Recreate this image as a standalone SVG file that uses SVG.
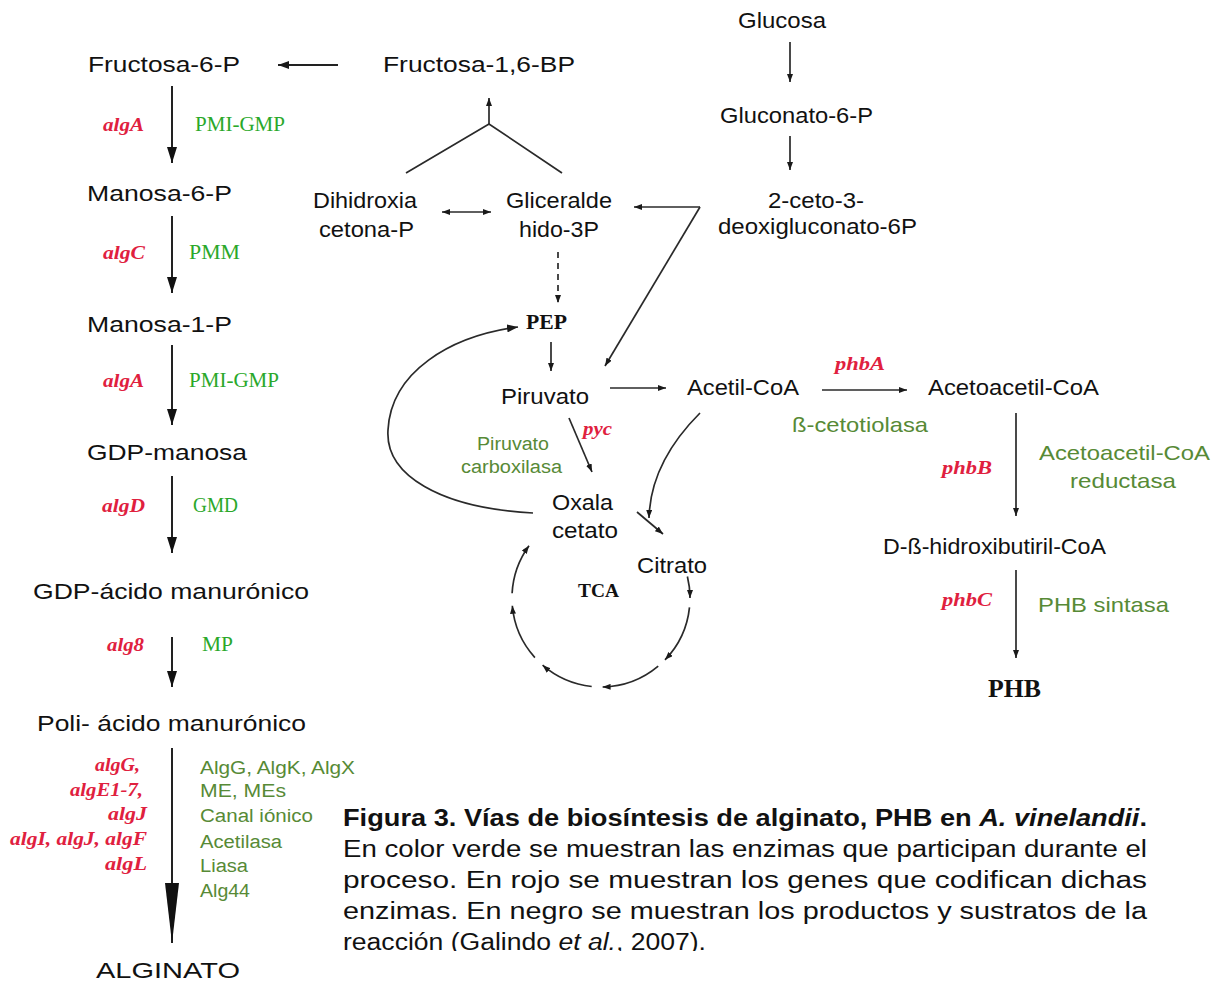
<svg xmlns="http://www.w3.org/2000/svg" width="1218" height="983" viewBox="0 0 1218 983">
<style>
.n{font-family:"Liberation Sans",Arial,sans-serif;font-size:22px;fill:#111}
.ge{font-family:"Liberation Sans",Arial,sans-serif;font-size:21px;fill:#578a36}
.gs{font-family:"Liberation Sans",Arial,sans-serif;font-size:18px;fill:#578a36}
.g{font-family:"Liberation Serif","Times New Roman",serif;font-style:italic;font-weight:bold;font-size:19px;fill:#e0203e}
.e{font-family:"Liberation Serif","Times New Roman",serif;font-size:20px;fill:#2aa82a}
.b{font-family:"Liberation Serif","Times New Roman",serif;font-weight:bold;fill:#111}
.cap{font-family:"Liberation Sans",Arial,sans-serif;font-size:23px;fill:#111}
.c{fill:none;stroke:#2a2a2a;stroke-width:1.7}
.cl{fill:none;stroke:#222;stroke-width:2}
</style>
<defs>
<marker id="ah" viewBox="0 0 16 10" refX="16" refY="5" markerWidth="16" markerHeight="10" markerUnits="userSpaceOnUse" orient="auto"><path d="M0,0 L16,5 L0,10 z" fill="#111"/></marker>
<marker id="ahBig" viewBox="0 0 60 14" refX="60" refY="7" markerWidth="60" markerHeight="14" markerUnits="userSpaceOnUse" orient="auto"><path d="M0,0 L60,7 L0,14 z" fill="#111"/></marker>
<marker id="am" viewBox="0 0 11 8" refX="11" refY="4" markerWidth="11" markerHeight="8" markerUnits="userSpaceOnUse" orient="auto"><path d="M0,0 L11,4 L0,8 z" fill="#1a1a1a"/></marker>
<marker id="as" viewBox="0 0 8 6" refX="8" refY="3" markerWidth="8" markerHeight="6" markerUnits="userSpaceOnUse" orient="auto-start-reverse"><path d="M0,0 L8,3 L0,6 z" fill="#1a1a1a"/></marker>
<clipPath id="capclip"><rect x="330" y="790" width="850" height="161"/></clipPath>
</defs>
<rect width="1218" height="983" fill="#fff"/>

<g id="connectors">
<path class="cl" d="M172,86 V163" marker-end="url(#ah)"/>
<path class="cl" d="M172,216 V293" marker-end="url(#ah)"/>
<path class="cl" d="M172,345 V425" marker-end="url(#ah)"/>
<path class="cl" d="M172,476 V553" marker-end="url(#ah)"/>
<path class="cl" d="M172,637 V687" marker-end="url(#ah)"/>
<path class="cl" d="M172,748 V943" marker-end="url(#ahBig)"/>
<path class="cl" d="M338,65 H278" stroke-width="2.4" marker-end="url(#am)"/>
<path class="c" d="M406,173 L489,124 L562,173"/>
<path class="c" d="M489,124 V98" marker-end="url(#as)"/>
<path class="c" d="M442,212 H491" marker-start="url(#as)" marker-end="url(#as)"/>
<path class="c" d="M700,207 H634" marker-end="url(#as)"/>
<path class="c" d="M700,207 L605,366" marker-end="url(#as)"/>
<path class="c" d="M790,42 V82" marker-end="url(#as)"/>
<path class="c" d="M790,136 V170" marker-end="url(#as)"/>
<path class="c" d="M558,252 V303" stroke-dasharray="6 5" marker-end="url(#as)"/>
<path class="c" d="M551,342 V371" marker-end="url(#as)"/>
<path class="c" d="M610,388 H666" marker-end="url(#as)"/>
<path class="c" d="M822,390 H907" marker-end="url(#as)"/>
<path class="c" d="M1016,413 V516" marker-end="url(#as)"/>
<path class="c" d="M1016,570 V658" marker-end="url(#as)"/>
<path class="c" d="M569,418 L592,472" marker-end="url(#as)"/>
<path class="c" d="M533,513 C440,508 385,475 388,430 C391,372 450,336 518,327" marker-end="url(#am)"/>
<path class="c" d="M700,413 C668,445 650,480 649,518" marker-end="url(#as)"/>
<path class="c" d="M637,512 L663,534" marker-end="url(#as)"/>
<path class="c" d="M687.4,576.5 A89,89 0 0 1 690,598" marker-end="url(#as)"/>
<path class="c" d="M689.5,607.3 A89,89 0 0 1 665,659.8" marker-end="url(#as)"/>
<path class="c" d="M658.2,666.2 A89,89 0 0 1 602.6,687" marker-end="url(#as)"/>
<path class="c" d="M591.7,686.5 A89,89 0 0 1 542.6,665.2" marker-end="url(#as)"/>
<path class="c" d="M534.9,657.6 A89,89 0 0 1 512.3,605.8" marker-end="url(#as)"/>
<path class="c" d="M512.1,593.3 A89,89 0 0 1 529,545.7" marker-end="url(#as)"/>
</g>

<g id="n-fructosa6p"><text class="n" x="88" y="72" textLength="152" lengthAdjust="spacingAndGlyphs">Fructosa-6-P</text></g>
<g id="n-fructosa16bp"><text class="n" x="383" y="72" textLength="192" lengthAdjust="spacingAndGlyphs">Fructosa-1,6-BP</text></g>
<g id="n-manosa6p"><text class="n" x="87" y="201" textLength="145" lengthAdjust="spacingAndGlyphs">Manosa-6-P</text></g>
<g id="n-manosa1p"><text class="n" x="87" y="332" textLength="145" lengthAdjust="spacingAndGlyphs">Manosa-1-P</text></g>
<g id="n-gdpmanosa"><text class="n" x="87" y="460" textLength="160" lengthAdjust="spacingAndGlyphs">GDP-manosa</text></g>
<g id="n-gdpacido"><text class="n" x="33" y="599" textLength="276" lengthAdjust="spacingAndGlyphs">GDP-ácido manurónico</text></g>
<g id="n-poli"><text class="n" x="37" y="731" textLength="269" lengthAdjust="spacingAndGlyphs">Poli- ácido manurónico</text></g>
<g id="n-alginato"><text class="n" x="96" y="978" font-size="23" textLength="144" lengthAdjust="spacingAndGlyphs">ALGINATO</text></g>

<g id="e-left">
<text class="g" x="103" y="131" textLength="41" lengthAdjust="spacingAndGlyphs">algA</text>
<text class="e" x="195" y="131" textLength="90" lengthAdjust="spacingAndGlyphs">PMI-GMP</text>
<text class="g" x="103" y="259" textLength="42" lengthAdjust="spacingAndGlyphs">algC</text>
<text class="e" x="189" y="259" textLength="51" lengthAdjust="spacingAndGlyphs">PMM</text>
<text class="g" x="103" y="387" textLength="41" lengthAdjust="spacingAndGlyphs">algA</text>
<text class="e" x="189" y="387" textLength="90" lengthAdjust="spacingAndGlyphs">PMI-GMP</text>
<text class="g" x="102" y="512" textLength="43" lengthAdjust="spacingAndGlyphs">algD</text>
<text class="e" x="193" y="512" textLength="45" lengthAdjust="spacingAndGlyphs">GMD</text>
<text class="g" x="107" y="651" textLength="37" lengthAdjust="spacingAndGlyphs">alg8</text>
<text class="e" x="202" y="651" textLength="31" lengthAdjust="spacingAndGlyphs">MP</text>
<text class="g" x="95" y="771" textLength="45" lengthAdjust="spacingAndGlyphs">algG,</text>
<text class="g" x="70" y="796" textLength="73" lengthAdjust="spacingAndGlyphs">algE1-7,</text>
<text class="g" x="108" y="820" textLength="39" lengthAdjust="spacingAndGlyphs">algJ</text>
<text class="g" x="10" y="845" textLength="137" lengthAdjust="spacingAndGlyphs">algI, algJ, algF</text>
<text class="g" x="105" y="870" textLength="42" lengthAdjust="spacingAndGlyphs">algL</text>
<text class="gs" x="200" y="774" textLength="155" lengthAdjust="spacingAndGlyphs">AlgG, AlgK, AlgX</text>
<text class="gs" x="200" y="797" textLength="86" lengthAdjust="spacingAndGlyphs">ME, MEs</text>
<text class="gs" x="200" y="822" textLength="113" lengthAdjust="spacingAndGlyphs">Canal iónico</text>
<text class="gs" x="200" y="848" textLength="82" lengthAdjust="spacingAndGlyphs">Acetilasa</text>
<text class="gs" x="200" y="872" textLength="48" lengthAdjust="spacingAndGlyphs">Liasa</text>
<text class="gs" x="200" y="897" textLength="50" lengthAdjust="spacingAndGlyphs">Alg44</text>
</g>

<g id="n-glucosa"><text class="n" x="738" y="28" textLength="88" lengthAdjust="spacingAndGlyphs">Glucosa</text></g>
<g id="n-gluconato"><text class="n" x="720" y="123" textLength="153" lengthAdjust="spacingAndGlyphs">Gluconato-6-P</text></g>
<g id="n-ceto"><text class="n" x="768" y="208" textLength="96" lengthAdjust="spacingAndGlyphs">2-ceto-3-</text><text class="n" x="718" y="234" textLength="199" lengthAdjust="spacingAndGlyphs">deoxigluconato-6P</text></g>
<g id="n-dihidroxia"><text class="n" x="313" y="208" textLength="104" lengthAdjust="spacingAndGlyphs">Dihidroxia</text><text class="n" x="319" y="237" textLength="95" lengthAdjust="spacingAndGlyphs">cetona-P</text></g>
<g id="n-gliceralde"><text class="n" x="506" y="208" textLength="106" lengthAdjust="spacingAndGlyphs">Gliceralde</text><text class="n" x="519" y="237" textLength="80" lengthAdjust="spacingAndGlyphs">hido-3P</text></g>
<g id="n-pep"><text class="b" x="526" y="329" font-size="20" textLength="41" lengthAdjust="spacingAndGlyphs">PEP</text></g>
<g id="n-piruvato"><text class="n" x="501" y="404" textLength="88" lengthAdjust="spacingAndGlyphs">Piruvato</text></g>
<g id="e-pyc"><text class="g" x="583" y="435" textLength="29" lengthAdjust="spacingAndGlyphs">pyc</text><text class="gs" x="477" y="450" textLength="72" lengthAdjust="spacingAndGlyphs">Piruvato</text><text class="gs" x="461" y="473" textLength="101" lengthAdjust="spacingAndGlyphs">carboxilasa</text></g>
<g id="n-oxalacetato"><text class="n" x="552" y="510" textLength="61" lengthAdjust="spacingAndGlyphs">Oxala</text><text class="n" x="552" y="538" textLength="66" lengthAdjust="spacingAndGlyphs">cetato</text></g>
<g id="n-citrato"><text class="n" x="637" y="573" textLength="70" lengthAdjust="spacingAndGlyphs">Citrato</text></g>
<g id="n-tca"><text class="b" x="578" y="597" font-size="19" textLength="41" lengthAdjust="spacingAndGlyphs">TCA</text></g>
<g id="n-acetilcoa"><text class="n" x="687" y="395" textLength="112" lengthAdjust="spacingAndGlyphs">Acetil-CoA</text></g>
<g id="e-phba"><text class="g" x="835" y="370" textLength="50" lengthAdjust="spacingAndGlyphs">phbA</text><text class="ge" x="792" y="432" textLength="136" lengthAdjust="spacingAndGlyphs">ß-cetotiolasa</text></g>
<g id="n-acetoacetil"><text class="n" x="928" y="395" textLength="171" lengthAdjust="spacingAndGlyphs">Acetoacetil-CoA</text></g>
<g id="e-phbb"><text class="g" x="942" y="474" textLength="50" lengthAdjust="spacingAndGlyphs">phbB</text><text class="ge" x="1039" y="460" textLength="171" lengthAdjust="spacingAndGlyphs">Acetoacetil-CoA</text><text class="ge" x="1070" y="488" textLength="106" lengthAdjust="spacingAndGlyphs">reductasa</text></g>
<g id="n-hidroxibutiril"><text class="n" x="883" y="554" textLength="223" lengthAdjust="spacingAndGlyphs">D-ß-hidroxibutiril-CoA</text></g>
<g id="e-phbc"><text class="g" x="942" y="606" textLength="50" lengthAdjust="spacingAndGlyphs">phbC</text><text class="ge" x="1038" y="612" textLength="131" lengthAdjust="spacingAndGlyphs">PHB sintasa</text></g>
<g id="n-phb"><text class="b" x="988" y="697" font-size="26" textLength="53" lengthAdjust="spacingAndGlyphs">PHB</text></g>

<g id="caption" clip-path="url(#capclip)">
<text class="cap" x="343" y="826" font-weight="bold" textLength="804" lengthAdjust="spacingAndGlyphs">Figura 3. Vías de biosíntesis de alginato, PHB en <tspan font-style="italic">A. vinelandii</tspan>.</text>
<text class="cap" x="343" y="857" textLength="804" lengthAdjust="spacingAndGlyphs">En color verde se muestran las enzimas que participan durante el</text>
<text class="cap" x="343" y="888" textLength="804" lengthAdjust="spacingAndGlyphs">proceso. En rojo se muestran los genes que codifican dichas</text>
<text class="cap" x="343" y="919" textLength="804" lengthAdjust="spacingAndGlyphs">enzimas. En negro se muestran los productos y sustratos de la</text>
<text class="cap" x="343" y="950" textLength="363" lengthAdjust="spacingAndGlyphs">reacción (Galindo <tspan font-style="italic">et al.</tspan>, 2007).</text>
</g>
</svg>
